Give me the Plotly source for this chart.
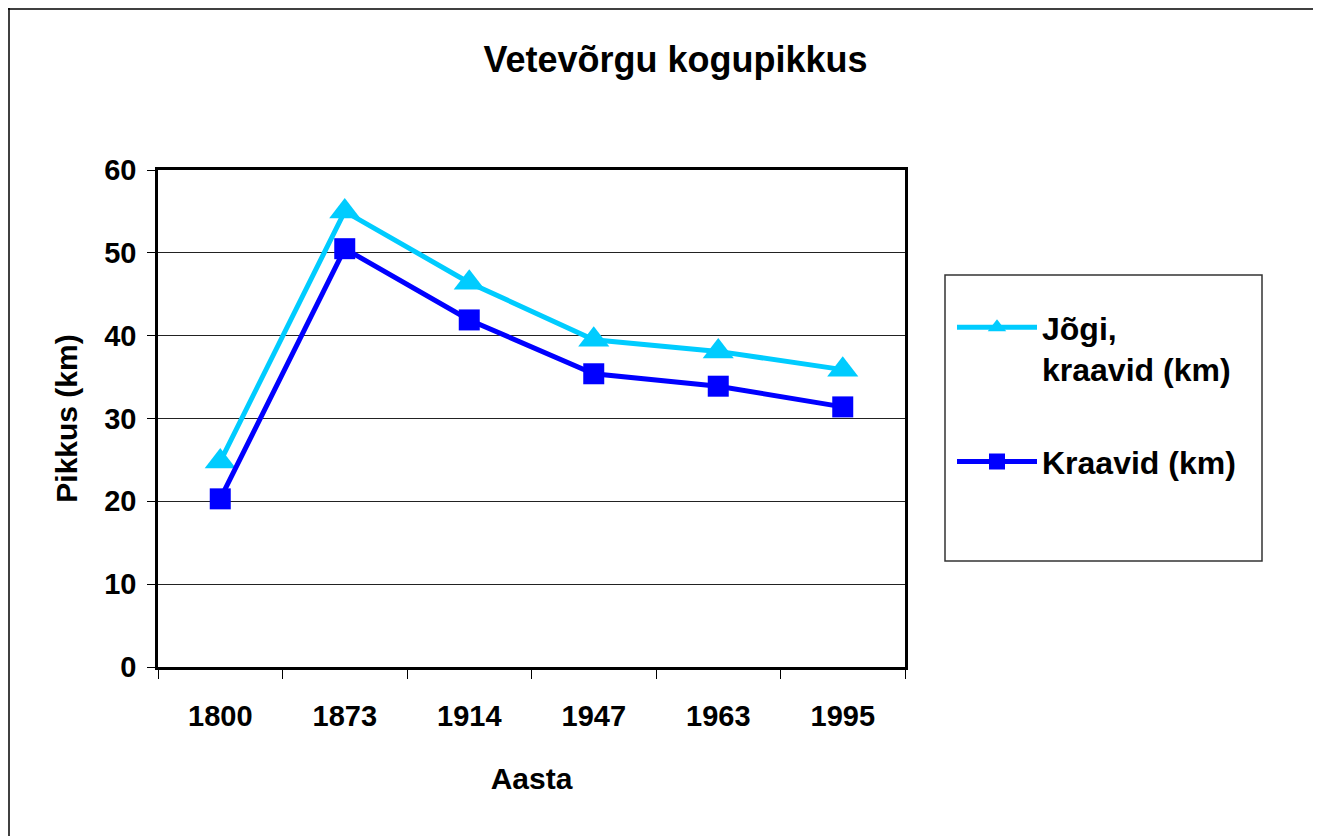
import plotly.graph_objects as go

years = ["1800", "1873", "1914", "1947", "1963", "1995"]
jogi_kraavid = [24.8, 55.0, 46.4, 39.5, 38.1, 35.9]
kraavid = [20.3, 50.5, 41.9, 35.4, 33.9, 31.4]

W, H = 1322, 836
L, R, T, B = 158, 905, 170, 667

def px(x):
    return (x - L) / (R - L)

def py(y):
    return (B - y) / (B - T)

FONT = "Liberation Sans, Arial, sans-serif"

fig = go.Figure()
fig.add_trace(go.Scatter(
    x=years, y=jogi_kraavid, mode="lines+markers",
    name="Jõgi,<br>kraavid (km)", legendgroup="a",
    line=dict(color="#00CCFF", width=5),
    marker=dict(symbol="triangle-up", size=27, color="#00CCFF"),
))
fig.add_trace(go.Scatter(
    x=years, y=kraavid, mode="lines+markers",
    name="Kraavid (km)", legendgroup="b",
    line=dict(color="#0000FF", width=5),
    marker=dict(symbol="square", size=21, color="#0000FF"),
))

fig.update_layout(
    width=W, height=H,
    margin=dict(l=L, r=W - R, t=T, b=H - B, autoexpand=False),
    paper_bgcolor="white", plot_bgcolor="white",
    font=dict(family=FONT, size=30, color="black", weight="bold"),
    title=dict(text="Vetevõrgu kogupikkus", x=0.511, xanchor="center",
               y=1 - 47 / H, yanchor="top", yref="container",
               font=dict(size=36, family=FONT, weight="bold")),
    showlegend=True,
    legend=dict(x=px(952), y=py(300), xanchor="left", yanchor="top",
                bgcolor="rgba(0,0,0,0)", borderwidth=0,
                font=dict(size=32, family=FONT, weight="bold"),
                itemwidth=80, valign="top", tracegroupgap=48),
    xaxis=dict(type="category", range=[-0.5, len(years) - 0.5],
               showline=True, linecolor="black", linewidth=2.5,
               mirror=True, ticks="outside", tickson="boundaries", ticklen=9,
               tickcolor="black", tickwidth=1, showgrid=False,
               ticklabelstandoff=21,
               title=dict(text="Aasta", standoff=38, font=dict(size=30)),
               tickfont=dict(size=29)),
    yaxis=dict(range=[0, 60], dtick=10, showline=True, linecolor="black",
               linewidth=2.5, mirror=True, ticks="outside", ticklen=8,
               tickcolor="black", tickwidth=1, showgrid=True,
               gridcolor="#222222", gridwidth=1, zeroline=False,
               ticklabelstandoff=5,
               title=dict(text="Pikkus (km)", standoff=18, font=dict(size=30)),
               tickfont=dict(size=29)),
    shapes=[
        dict(type="rect", xref="paper", yref="paper",
             x0=px(945), x1=px(1262), y0=py(275), y1=py(561),
             line=dict(color="#333333", width=1.5), fillcolor="rgba(0,0,0,0)"),
        dict(type="line", xref="paper", yref="paper",
             x0=px(8), x1=px(1313), y0=py(9), y1=py(9),
             line=dict(color="black", width=1.5)),
        dict(type="line", xref="paper", yref="paper",
             x0=px(9), x1=px(9), y0=py(8), y1=py(840),
             line=dict(color="black", width=1.5)),
    ],
)

fig.write_html("out.html", config={"displayModeBar": False},
               post_script="document.body.style.margin='0';document.body.style.overflow='hidden';")
